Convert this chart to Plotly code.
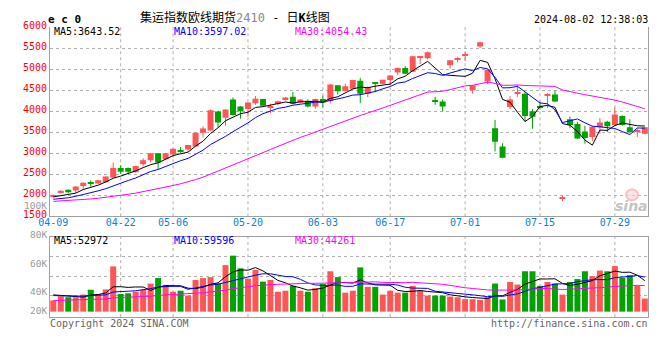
import plotly.graph_objects as go
import pandas as pd

# ---------------- data ----------------
dates = ["04-09","04-10","04-11","04-12","04-15","04-16","04-17","04-18","04-19",
         "04-22","04-23","04-24","04-25","04-26","04-29","04-30",
         "05-06","05-07","05-08","05-09","05-10","05-13","05-14","05-15","05-16","05-17",
         "05-20","05-21","05-22","05-23","05-24","05-27","05-28","05-29","05-30","05-31",
         "06-03","06-04","06-05","06-06","06-07","06-11","06-12","06-13","06-14",
         "06-17","06-18","06-19","06-20","06-21","06-24","06-25","06-26","06-27","06-28",
         "07-01","07-02","07-03","07-04","07-05","07-08","07-09","07-10","07-11","07-12",
         "07-15","07-16","07-17","07-18","07-19","07-22","07-23","07-24","07-25","07-26",
         "07-29","07-30","07-31","08-01","08-02"]

open_ = [1965,2053,2128,2114,2220,2290,2281,2311,2419,2647,2647,2549,2739,2831,2998,2854,2968,3070,3089,3158,
         3487,3540,3990,3845,4279,4112,4050,4188,4288,4080,4173,4279,4341,4203,4249,4112,4288,4242,4615,4478,
         4531,4722,4416,4684,4653,4737,4920,5027,4936,5280,5256,4265,4226,5089,5225,5320,4494,5537,4707,3592,
         3158,4096,4425,4416,3998,4105,4375,4393,1930,3807,3693,3517,3387,3616,3745,3670,3883,3616,3510,3464]
high = [2020,2115,2140,2215,2305,2357,2365,2455,2778,2709,2660,2700,2876,3005,3005,3005,3110,3146,3200,3490,
        3638,4040,4010,4045,4325,4120,4210,4357,4295,4173,4250,4340,4455,4290,4280,4295,4370,4640,4625,4650,
        4745,4790,4580,4690,4750,4850,5035,5070,5310,5300,5420,4340,4279,5215,5285,5409,4615,5652,4990,3791,
        3236,4357,4608,4455,4050,4226,4432,4494,1991,3868,3746,3654,3640,3837,3770,4089,3900,3807,3592,3630]
low = [1950,2045,2050,2053,2151,2206,2270,2300,2410,2510,2500,2540,2690,2780,2602,2840,2900,2998,3030,3150,
       3378,3530,3615,3654,3890,3821,3868,4150,4120,3950,4140,4250,4160,4180,4090,4060,4090,4180,4395,4470,
       4520,4187,4330,4450,4640,4610,4860,4880,4930,5120,5230,4150,3998,5011,5157,5194,4416,5500,4645,3043,
       2880,4050,4341,3753,3579,4036,4073,4215,1863,3592,3334,3226,3288,3464,3501,3650,3650,3470,3387,3450]
close = [2005,2105,2069,2206,2297,2270,2357,2448,2647,2556,2556,2693,2831,2998,2778,2998,3105,3050,3197,3487,
         3585,4020,3730,4036,3906,3998,4203,4295,4128,4100,4235,4325,4173,4279,4112,4288,4203,4631,4471,4592,
         4737,4416,4569,4645,4745,4844,5027,4890,5302,5295,5400,4235,4112,5210,5240,5335,4608,5638,4981,3272,
         2892,4279,4440,3883,3867,4090,4390,4226,1945,3670,3350,3364,3631,3730,3638,3922,3670,3501,3525,3616]
volume = [19100,26300,24600,24600,29100,37400,30200,37900,77200,30200,31300,34000,37400,47900,57300,45700,
          34000,35700,27400,54000,57300,58900,48400,79400,95500,73900,56200,71100,51200,54000,34000,35700,
          44000,35700,34000,40100,47300,68900,58900,32400,35700,75500,42300,42300,29100,35700,32400,32400,
          44000,35700,27400,27400,27400,25700,24600,21300,21300,20200,24600,47900,20800,50600,46200,68900,
          68900,44000,50600,47900,29100,50600,55600,68900,60600,70000,68900,77700,57800,62300,44000,22400]

# moving-average values at the start of the window
ma5_head = [1960, 1985, 2008, 2050]
ma10_head = [1905, 1920, 1940, 1975, 2013, 2060, 2105, 2155, 2225]
ma30_head = [1855, 1864, 1871, 1883, 1898, 1912, 1929, 1949, 1975, 1999, 2022, 2050, 2083, 2121, 2152,
             2190, 2232, 2272, 2317, 2372, 2430, 2502, 2565, 2637, 2706, 2778, 2856, 2938, 3013]
vol_ma5_head = [28600, 27700, 26400, 25100]
vol_ma10_head = [27400, 27200, 26800, 26400, 26500, 27400, 27600, 28600, 33500]
vol_ma30_head = [19000, 19200, 19400, 19600, 20000, 20600, 20900, 21600, 23500, 23900, 24300, 24800, 25400,
                 26400, 27700, 28500, 29000, 29600, 29900, 31000, 32300, 33700, 34600, 36600, 39200, 41000,
                 42300, 44000, 45100]

price_ma_labels = ["MA5:3643.52", "MA10:3597.02", "MA30:4054.43"]
vol_ma_labels = ["MA5:52972", "MA10:59596", "MA30:44261"]
price_ticks = [1500, 2000, 2500, 3000, 3500, 4000, 4500, 5000, 5500, 6000]
date_ticks = ["04-09", "04-22", "05-06", "05-20", "06-03", "06-17", "07-01", "07-15", "07-29"]
vol_axis_labels = ["100K", "80K", "60K", "40K", "20K"]
title_name = "集运指数欧线期货"
title_code = "2410"
title_kind = ("日", "K", "线图")
symbol = "e c 0"
timestamp = "2024-08-02 12:38:03"
copyright_txt = "Copyright 2024 SINA.COM"
site_txt = "http://finance.sina.com.cn"

# ---------------- helpers ----------------
def with_head(values, window, head):
    s = pd.Series(values, dtype=float).rolling(window).mean()
    s.iloc[:len(head)] = head
    return s.tolist()

ma5 = with_head(close, 5, ma5_head)
ma10 = with_head(close, 10, ma10_head)
ma30 = with_head(close, 30, ma30_head)
vma5 = with_head(volume, 5, vol_ma5_head)
vma10 = with_head(volume, 10, vol_ma10_head)
vma30 = with_head(volume, 30, vol_ma30_head)

# page has an 8px body margin: the figure's top-left lands at (8, 8) of the window
OFF = 8
WIN_W, WIN_H = 660, 360
BOX_L, BOX_R, BOX_T, BOX_B = 50, 649, 19, 317      # plot box in window pixels
W, H = WIN_W - OFF, WIN_H - OFF
L, T = BOX_L - OFF, BOX_T - OFF
R, B = W - (BOX_R - OFF), H - (BOX_B - OFF)
PW, PH = BOX_R - BOX_L, BOX_B - BOX_T

def fx(xw):
    return (xw - BOX_L) / PW

def fy(yw):
    return (BOX_B - yw) / PH

RED, GREEN = "#ff5555", "#00a400"
GRID = "#b0b0b0"
BORDER = "#a0a0a0"
MONO = "DejaVu Sans Mono"

n = len(dates)
xs = list(range(n))
colors = [RED if c >= o else GREEN for o, c in zip(open_, close)]

body_base, body_h = [], []
for o, c in zip(open_, close):
    lo, hi = min(o, c), max(o, c)
    if hi - lo < 24:
        mid = (hi + lo) / 2
        lo, hi = mid - 12, mid + 12
    body_base.append(lo)
    body_h.append(hi - lo)

fig = go.Figure()

for col in (RED, GREEN):
    wx, wy = [], []
    for i in xs:
        if colors[i] == col:
            wx += [i, i, None]
            wy += [low[i], high[i], None]
    fig.add_trace(go.Scatter(x=wx, y=wy, mode="lines", line=dict(color=col, width=1),
                             xaxis="x", yaxis="y", hoverinfo="skip"))

fig.add_trace(go.Bar(x=xs, y=body_h, base=body_base, width=0.8,
                     marker=dict(color=colors, line=dict(width=0)), xaxis="x", yaxis="y"))

for vals, col in ((ma5, "#000000"), (ma10, "#0000ff"), (ma30, "#ff00ff")):
    fig.add_trace(go.Scatter(x=xs, y=vals, mode="lines", line=dict(color=col, width=1),
                             xaxis="x", yaxis="y"))

fig.add_trace(go.Bar(x=xs, y=volume, width=0.8, marker=dict(color=colors, line=dict(width=0)),
                     xaxis="x2", yaxis="y2"))
for vals, col in ((vma5, "#000000"), (vma10, "#0000ff"), (vma30, "#ff00ff")):
    fig.add_trace(go.Scatter(x=xs, y=vals, mode="lines", line=dict(color=col, width=1),
                             xaxis="x2", yaxis="y2"))

x_lo = (BOX_L - 53.3) / 7.5
x_hi = (BOX_R - 53.3) / 7.5
vol_per_px = 1660
vol_base_px = 311.5
vol_range = [(vol_base_px - BOX_B) * vol_per_px, (vol_base_px - 234.3) * vol_per_px]
vol_grid = [(vol_base_px - p) * vol_per_px for p in (255.3, 275.0, 295.0)]

tick_idx = [dates.index(d) for d in date_ticks]

fig.update_layout(
    width=W, height=H, margin=dict(l=L, r=R, t=T, b=B),
    paper_bgcolor="white", plot_bgcolor="white", showlegend=False,
    barmode="overlay", font=dict(family=MONO, size=10, color="#000"),
    xaxis=dict(domain=[0, 1], range=[x_lo, x_hi], tickmode="array", tickvals=tick_idx,
               ticktext=date_ticks, tickfont=dict(family=MONO, size=10, color="#0a7fd6"),
               ticklabelstandoff=-3,
               showgrid=False, zeroline=False, showline=True, linecolor=BORDER, linewidth=1,
               ticks="", anchor="y"),
    yaxis=dict(domain=[fy(213.5), 1], range=[1500, 6000], tickmode="array", tickvals=price_ticks,
               tickfont=dict(family=MONO, size=10, color="#ff0000"), ticklabelshift=-2,
               showgrid=True,
               gridcolor=GRID, griddash="dot", gridwidth=1, zeroline=False, showline=True,
               linecolor=BORDER, mirror=True, ticks="", anchor="x"),
    xaxis2=dict(domain=[0, 1], range=[x_lo, x_hi], showticklabels=False, showgrid=False,
                zeroline=False, showline=True, linecolor=BORDER, mirror=True, ticks="", anchor="y2"),
    yaxis2=dict(domain=[0, fy(234.3)], range=vol_range, tickmode="array", tickvals=vol_grid,
                showticklabels=False, showgrid=True, gridcolor=GRID, griddash="dot", gridwidth=1,
                zeroline=False, showline=True, linecolor=BORDER, mirror=True, ticks="", anchor="x2"),
)

shapes = []
for i in tick_idx[1:]:
    shapes.append(dict(type="line", xref="x", yref="y domain", x0=i, x1=i, y0=0, y1=1,
                       line=dict(color=GRID, width=1, dash="dot"), layer="below"))
    shapes.append(dict(type="line", xref="x2", yref="y2 domain", x0=i, x1=i, y0=0, y1=1,
                       line=dict(color=GRID, width=1, dash="dot"), layer="below"))
shapes.append(dict(type="circle", xref="paper", yref="paper", x0=fx(627), x1=fx(639),
                   y0=fy(197), y1=fy(186), line=dict(color="#f6c0c0", width=2),
                   fillcolor="rgba(250,210,210,0.6)"))
fig.update_layout(shapes=shapes)

ann = []
def text(x, y, s, color="#000", size=10, anchor="left", family=MONO, bold=False):
    ann.append(dict(xref="paper", yref="paper", x=fx(x), y=fy(y), text=(f"<b>{s}</b>" if bold else s),
                    showarrow=False, xanchor=anchor, yanchor="middle", borderpad=0,
                    font=dict(family=family, size=size, color=color)))

text(47, 11.5, symbol, size=11, bold=True)
ann.append(dict(xref="paper", yref="paper", x=fx(139), y=fy(9.5), showarrow=False,
                xanchor="left", yanchor="middle", borderpad=0,
                text=(f"{title_name}<span style='color:#8a8a8a'>{title_code}</span> - "
                      f"{title_kind[0]}<b>{title_kind[1]}</b>{title_kind[2]}"),
                font=dict(family="DejaVu Sans Mono, Noto Sans CJK SC", size=12, color="#000")))
text(650, 11.5, timestamp, anchor="right")
for s, xp, col in zip(price_ma_labels, (53, 173, 294), ("#000000", "#0000ff", "#ff00ff")):
    text(xp, 24, s, color=col)
for s, xp, col in zip(vol_ma_labels, (53, 173, 294), ("#000000", "#0000ff", "#ff00ff")):
    text(xp, 238.5, s, color=col)
for s, yp in zip(vol_axis_labels, (202, 232, 262, 291.3, 310.5)):
    text(47.5, yp, s, color="#9a9a9a", size=9.5, anchor="right")
text(49, 323.5, copyright_txt, color="#666666")
text(650, 323.5, site_txt, color="#666666", anchor="right")
ann.append(dict(xref="paper", yref="paper", x=fx(650), y=fy(203), text="<b><i>sina</i></b>",
                showarrow=False, xanchor="right", yanchor="middle", borderpad=0,
                font=dict(family="DejaVu Sans", size=14, color="#c4c4c4")))
fig.update_layout(annotations=ann)

fig.write_html("out.html")
